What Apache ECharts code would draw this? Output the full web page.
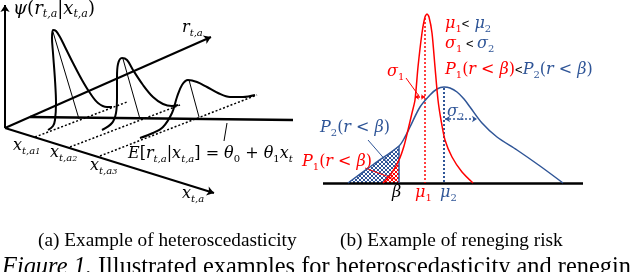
<!DOCTYPE html>
<html><head><meta charset="utf-8">
<script src="https://cdn.jsdelivr.net/npm/echarts@6/dist/echarts.min.js"></script>
<style>html,body{margin:0;padding:0;background:#fff}#c{width:632px;height:272px}</style>
</head><body><div id="c"></div>
<script>
// ---------- data (illustration space, 632 x 272) ----------
// panel (a): axes and regression line
const psiAxis = [[5,128],[5,5]];
const rAxis = [[5,128],[211,37]];
const xtAxis = [[5,128],[214,193]];
const meanLine = [[30,117],[293,120]];
// panel (a): three conditional densities
const curveA1 = [[48,130],[53,126],[55,120],[56,103],[55,80],[53,53],[52,38],[53,30],[56,31],[60,37],[65,47],[73,63],[82,80],[90,93],[98,103],[107,107],[112,107]];
const curveA2 = [[102,130],[112,123],[116,113],[117,97],[117,77],[118,64],[122,58],[127,60],[133,70],[143,85],[153,97],[163,104],[172,106],[178,105]];
const curveA3 = [[140,138],[153,133],[163,127],[172,113],[177,97],[182,85],[188,80],[197,82],[207,87],[218,93],[230,97],[243,97],[255,95]];
const dropLines = [[[53,32],[79,119]],[[123,59],[140,119]],[[189,80],[199,117]]];
const dottedRows = [[[35,137],[127,102]],[[70,147],[180,105]],[[100,156],[257,95]]];
const eLeader = [[227,123],[224,141]];
// panel (b)
const baseB = [[323,183],[583,183]];
const redDensity = [[383,183],[391,174],[399,160],[404,146],[408,130],[412,113],[415,100],[418,67],[422,33],[425,17],[427,14],[429,17],[432,33],[435,67],[438,100],[441,120],[445,140],[452,157],[462,172],[473,183]];
const blueDensity = [[348,183],[374,164],[399,146],[405,137],[410,127],[420,107],[430,95],[437,89],[444,87],[450,88],[457,92],[464,99],[470,107],[482,123],[497,137],[517,150],[540,166],[563,183]];
const blueTail = [[348,183],[399,146],[399,183]];
const redTail = [[383,183],[391,174],[399,160],[399,183]];
const mu1Line = [[425,18],[425,183]];
const mu2Line = [[444,88],[444,183]];
const betaLine = [[399,146],[399,183]];
const sigma1Span = [[415,97],[425,97]];
const sigma2Span = [[445,119],[477,119]];
const sigma1Leader = [[406,78],[419,96]];
const p2Leader = [[368,140],[388,163]];
const p1Leader = [[365,168],[397,180]];
// text
const captionA = '(a) Example of heteroscedasticity';
const captionB = '(b) Example of reneging risk';
const figLabel = 'Figure 1.';
const figText = ' Illustrated examples for heteroscedasticity and reneging';

// ---------- styling ----------
const RED = '#ff0000', BLUE = '#2f5597', BLK = '#000';
const MATH = 'DejaVu Serif';
function hatch(color){
  const c = document.createElement('canvas'); c.width = c.height = 4;
  const g = c.getContext('2d'); g.strokeStyle = color; g.lineWidth = 1;
  g.beginPath(); g.moveTo(0,4); g.lineTo(4,0); g.moveTo(-1,1); g.lineTo(1,-1); g.moveTo(3,5); g.lineTo(5,3);
  g.moveTo(0,0); g.lineTo(4,4); g.moveTo(-1,3); g.lineTo(1,5); g.moveTo(3,-1); g.lineTo(5,1);
  g.stroke(); return c;
}
function richSet(fs, color){
  return {
    i:{fontFamily:MATH,fontStyle:'italic',fontSize:fs,fill:color,lineHeight:fs+4},
    n:{fontFamily:MATH,fontSize:fs,fill:color,lineHeight:fs+4},
    s:{fontFamily:MATH,fontStyle:'italic',fontSize:Math.round(fs*0.62),fill:color,lineHeight:Math.round(fs*0.6),verticalAlign:'bottom'},
    u:{fontFamily:MATH,fontSize:Math.round(fs*0.62),fill:color,lineHeight:Math.round(fs*0.6),verticalAlign:'bottom'},
    ss:{fontFamily:MATH,fontStyle:'italic',fontSize:Math.round(fs*0.5),fill:color,lineHeight:Math.round(fs*0.3),verticalAlign:'bottom'}
  };
}
function mixRich(fs){
  const r = richSet(fs, RED), b = richSet(fs, BLUE), k = richSet(fs, BLK);
  const out = {};
  for (const key in r){ out['r'+key] = r[key]; out['b'+key] = b[key]; out['k'+key] = k[key]; }
  out.lt = {fontFamily:'Liberation Sans',fontSize:Math.round(fs*0.8),fill:BLK,lineHeight:fs+4};
  return out;
}
function txt(x, y, text, rich){
  return {type:'text', x:x, y:y, z:100, style:{text:text, rich:rich, align:'left', verticalAlign:'middle'}};
}
function seg(pairs, color, width, type, sym, symSize){
  return {type:'lines', coordinateSystem:'cartesian2d', polyline:false, silent:true,
    symbol: sym || ['none','none'], symbolSize: symSize || 6,
    lineStyle:{color:color, width:width, type:type||'solid', opacity:1},
    data: pairs.map(p => ({coords:p})), z:5};
}
function curve(data, color, width, sm){
  return {type:'line', data:data, smooth:sm, symbol:'none', silent:true,
    lineStyle:{color:color, width:width}, z:6};
}
function poly(points, pattern){
  return {type:'custom', silent:true, z:2, data:[0],
    renderItem:(params, api) => ({type:'polygon',
      shape:{points: points.map(p => api.coord(p))},
      style:{fill:{image:pattern, repeat:'repeat'}, stroke:null}})};
}

const chart = echarts.init(document.getElementById('c'), null, {renderer:'canvas'});
const K16 = richSet(16, BLK);
const KPSI = richSet(18, BLK);
const M = mixRich(16);
chart.setOption({
  animation:false,
  backgroundColor:'#fff',
  grid:{left:0,right:0,top:0,bottom:0},
  xAxis:{type:'value',min:0,max:632,show:false},
  yAxis:{type:'value',min:0,max:272,inverse:true,show:false},
  series:[
    poly(blueTail, hatch(BLUE)),
    poly(redTail, hatch(RED)),
    seg([psiAxis, rAxis, xtAxis], BLK, 2, 'solid', ['none','arrow'], 7),
    seg([meanLine], BLK, 2.5),
    seg(dottedRows, BLK, 1.5, [2,2]),
    seg(dropLines, BLK, 1),
    seg([eLeader], BLK, 1),
    curve(curveA1, BLK, 2, 0.35),
    curve(curveA2, BLK, 2, 0.35),
    curve(curveA3, BLK, 2, 0.35),
    seg([baseB], BLK, 2.5),
    curve(blueDensity, BLUE, 1.5, 0.3),
    curve(redDensity, RED, 1.5, 0.25),
    seg([mu1Line], RED, 1.5, [2,2]),
    seg([mu2Line], BLUE, 2, [2,2]),
    seg([betaLine], BLUE, 1.5),
    seg([sigma1Span], RED, 1.5, [2,1], ['arrow','arrow'], 4),
    seg([sigma2Span], BLUE, 1.5, [2,2], ['arrow','arrow'], 5),
    seg([sigma1Leader], RED, 1),
    seg([p2Leader], BLUE, 1),
    seg([p1Leader], RED, 1)
  ],
  graphic:[
    txt(13, 9, '{i|ψ}{n|(}{i|r}{s|t,a}{n||}{i|x}{s|t,a}{n|)}', KPSI),
    txt(182, 28, '{i|r}{s|t,a}', K16),
    txt(13, 146, '{i|x}{s|t,a}{ss|1}', K16),
    txt(50, 153, '{i|x}{s|t,a}{ss|2}', K16),
    txt(90, 166, '{i|x}{s|t,a}{ss|3}', K16),
    txt(182, 194, '{i|x}{s|t,a}', K16),
    txt(128, 154, '{i|E}{n|[}{i|r}{s|t,a}{n||}{i|x}{s|t,a}{n|] = }{i|θ}{u|0}{n| + }{i|θ}{u|1}{i|x}{s|t}', K16),
    txt(445, 24, '{ri|μ}{ru|1}{lt|<}{bi| μ}{bu|2}', M),
    txt(445, 44, '{ri|σ}{ru|1}{lt| < }{bi|σ}{bu|2}', M),
    txt(445, 70, '{ri|P}{ru|1}{rn|(}{ri|r}{rn| < }{ri|β}{rn|)}{lt|<}{bi|P}{bu|2}{bn|(}{bi|r}{bn| < }{bi|β}{bn|)}', M),
    txt(387, 72, '{ri|σ}{ru|1}', M),
    txt(447, 112, '{bi|σ}{bu|2}', M),
    txt(320, 128, '{bi|P}{bu|2}{bn|(}{bi|r}{bn| < }{bi|β}{bn|)}', M),
    txt(302, 162, '{ri|P}{ru|1}{rn|(}{ri|r}{rn| < }{ri|β}{rn|)}', M),
    txt(392, 193, '{ki|β}', M),
    txt(415, 193, '{ri|μ}{ru|1}', M),
    txt(440, 193, '{bi|μ}{bu|2}', M),
    {type:'text', x:38, y:241, style:{text:captionA, fontFamily:'Liberation Serif', fontSize:19.3, fill:BLK, verticalAlign:'middle'}},
    {type:'text', x:340, y:241, style:{text:captionB, fontFamily:'Liberation Serif', fontSize:19.3, fill:BLK, verticalAlign:'middle'}},
    {type:'text', x:2, y:268, style:{text:'{a|'+figLabel+'}{b|'+figText+'}', verticalAlign:'middle',
      rich:{a:{fontFamily:'Liberation Serif',fontStyle:'italic',fontSize:24.4,fill:BLK},b:{fontFamily:'Liberation Serif',fontSize:24.4,fill:BLK}}}}
  ]
});
</script></body></html>
